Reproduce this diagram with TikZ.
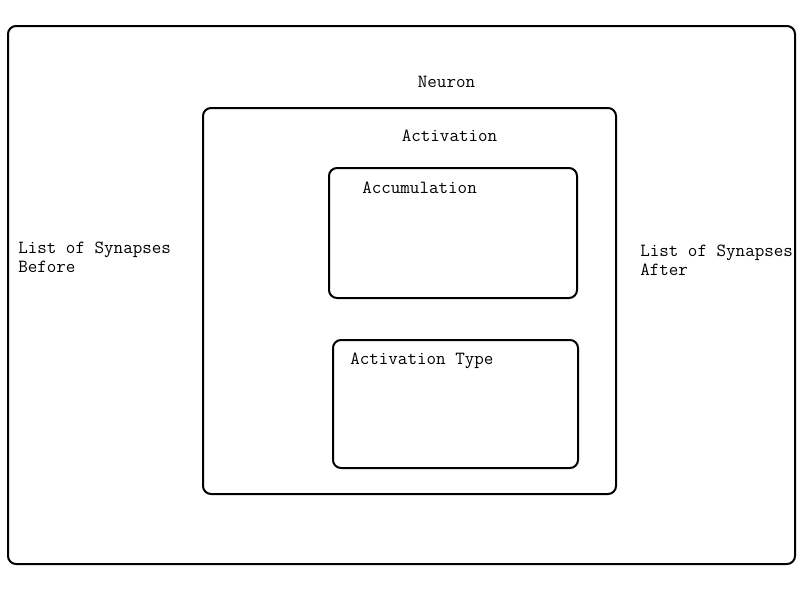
\documentclass[tikz,border=0pt]{standalone}
\usetikzlibrary{positioning}

\tikzset{
    box/.style={draw, line width=1.5pt, rounded corners=6pt},
    lbl/.style={font=\ttfamily\fontsize{13.9}{14.25}\selectfont, inner sep=0pt}
}

\begin{document}
\begin{tikzpicture}[x=0.75pt, y=-0.75pt]
                        \useasboundingbox (0, 0) rectangle (800, 600);
                        % boxes
                        \draw[box] (8, 26) rectangle (795, 564);
                        \draw[box] (203, 108) rectangle (616, 494);
                        \draw[box] (329, 168) rectangle (577, 298);
                        \draw[box] (333, 340) rectangle (578, 468);
                        % labels
                        \node[lbl] (neuron) at (446.5, 81.5) {Neuron};
                        \node[lbl] (activation) at (449.5, 135.5) {Activation};
                        \node[lbl, anchor=west] (accumulation) at (362, 187.5) {Accumulation};
                        \node[lbl, anchor=west] (acttype) at (350, 360.5) {Activation Type};
                        \node[lbl, anchor=west, align=left] (before) at (18, 257) {List of Synapses\\Before};
                        \node[lbl, anchor=west, align=left] (after) at (640, 260) {List of Synapses\\After};
                    \end{tikzpicture}
\end{document}
